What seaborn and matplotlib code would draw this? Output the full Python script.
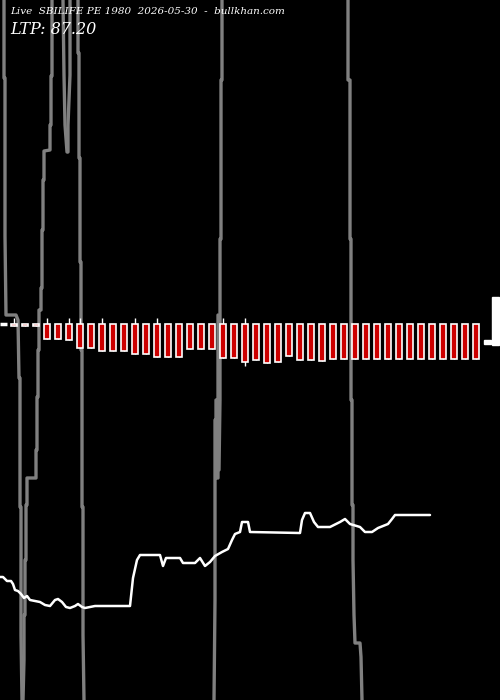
import matplotlib
matplotlib.use("Agg")
import matplotlib.pyplot as plt
import seaborn as sns
import pandas as pd

sns.set_style("dark")
plt.rcParams['font.family'] = ['DejaVu Serif']

# candle positions (chart pixels), open / close / high / low
candle_x = [14 + 11 * i for i in range(43)]
candle_open = [324] * 43
candle_close = [326, 326, 326, 339, 339, 340, 348, 348, 351, 351, 351, 354, 354, 357, 357,
                357, 349, 349, 349, 358, 358, 362, 360, 363, 362, 356, 360, 360, 361, 359,
                359, 359, 359, 359, 359, 359, 359, 359, 359, 359, 359, 359, 359]
candle_high = [318, 324, 324, 318, 324, 318, 318, 324, 318, 324, 324, 318, 324, 318, 324,
               324, 324, 324, 324, 318, 324, 318, 324, 324, 324, 324, 324, 324, 324, 324,
               324, 324, 324, 324, 324, 324, 324, 324, 324, 324, 324, 324, 324]
candle_low = candle_close[:21] + [366] + candle_close[22:]

# price line
price_x = [0, 3, 7, 11, 13, 15, 18, 21, 24, 27, 30, 35, 40, 45, 50, 55, 58, 62, 66, 70, 75, 78,
           82, 85, 90, 95, 130, 133, 137, 140, 160, 163, 166, 170, 180, 183, 195, 200, 205, 210,
           215, 222, 228, 232, 235, 240, 242, 248, 250, 300, 302, 305, 310, 314, 318, 330, 340,
           345, 350, 360, 365, 372, 378, 388, 392, 395, 430]
price_y = [577, 577, 581, 581, 584, 590, 591, 594, 598, 596, 600, 601, 602, 605, 606, 600, 599,
           602, 607, 608, 606, 604, 607, 608, 607, 606, 606, 578, 560, 555, 555, 566, 558, 558,
           558, 563, 563, 558, 566, 562, 556, 552, 549, 540, 534, 532, 522, 522, 532, 533, 520,
           513, 513, 522, 527, 527, 522, 519, 524, 527, 532, 532, 528, 524, 519, 515, 515]

# gray indicator lines
gray_lines = {
    "a": ([4, 4, 5, 5, 6, 16, 18, 19, 20, 20, 21, 21, 22], [0, 78, 78, 236, 315, 315, 320, 378, 378, 507, 507, 635, 700]),
    "b": ([52, 52, 51, 51, 50, 50, 44, 44, 43, 43, 42, 42, 41, 41, 39, 39, 38, 38, 37, 37, 36, 36,
           27, 27, 26, 26, 25, 25, 24, 24, 23],
          [0, 76, 76, 125, 125, 150, 151, 180, 180, 230, 230, 288, 288, 310, 310, 350, 350, 397, 397,
           450, 450, 478, 478, 505, 505, 560, 560, 615, 615, 660, 700]),
    "c": ([63, 64, 65, 67], [0, 75, 125, 152]),
    "d": ([70, 70, 68, 68], [0, 75, 125, 152]),
    "e": ([78, 78, 79, 79, 80, 80, 81, 81, 82, 82, 83, 83, 84], [0, 53, 53, 158, 158, 262, 262, 350, 350, 507, 507, 635, 700]),
    "f": ([222, 222, 221, 221, 220, 220, 219], [0, 80, 80, 239, 239, 400, 470]),
    "g": ([218, 218, 217, 217, 216, 216, 215, 215, 214], [315, 478, 478, 400, 400, 420, 420, 600, 700]),
    "h": ([348, 348, 350, 350, 351, 351, 352, 352, 353, 353, 354, 355, 360, 361, 362],
          [0, 80, 80, 239, 239, 400, 400, 505, 505, 560, 615, 643, 643, 657, 700]),
}

fig = plt.figure(figsize=(5, 7), dpi=100, facecolor="black")
ax = fig.add_axes([0, 0, 1, 1])
ax.set_facecolor("black")
ax.set_xlim(0, 500)
ax.set_ylim(700, 0)
ax.set_axis_off()

for name, (gx, gy) in gray_lines.items():
    df = pd.DataFrame({"x": gx, "y": gy})
    sns.lineplot(data=df, x="x", y="y", sort=False, estimator=None, color="#808080",
                 linewidth=2.4, ax=ax, zorder=1)

cdf = pd.DataFrame({"x": candle_x, "open": candle_open, "close": candle_close,
                    "high": candle_high, "low": candle_low})
ax.vlines(cdf["x"], cdf["high"], cdf["low"], color="white", linewidth=1, zorder=2)
ax.bar(cdf["x"], cdf["close"] - cdf["open"], bottom=cdf["open"], width=6.5,
       color="#cc0000", edgecolor="white", linewidth=1.2, zorder=3)

# left level tick and right-side markers
ax.hlines(324, 0, 7, color="white", linewidth=2.5, zorder=3)
ax.bar([495.5], [48], bottom=297, width=7, color="white", zorder=3)
ax.bar([487.5], [4], bottom=340, width=7, color="white", zorder=3)

pdf = pd.DataFrame({"x": price_x, "y": price_y})
sns.lineplot(data=pdf, x="x", y="y", sort=False, estimator=None, color="white",
             linewidth=1.8, ax=ax, zorder=4)

ax.text(10, 12, "Live  SBILIFE PE 1980  2026-05-30  -  bullkhan.com", color="white",
        fontsize=7.5, style="italic", va="center", zorder=5)
ax.text(10, 30, "LTP: 87.20", color="white", fontsize=11.5, style="italic", va="center", zorder=5)

fig.savefig("out.png", dpi=100, facecolor="black")
